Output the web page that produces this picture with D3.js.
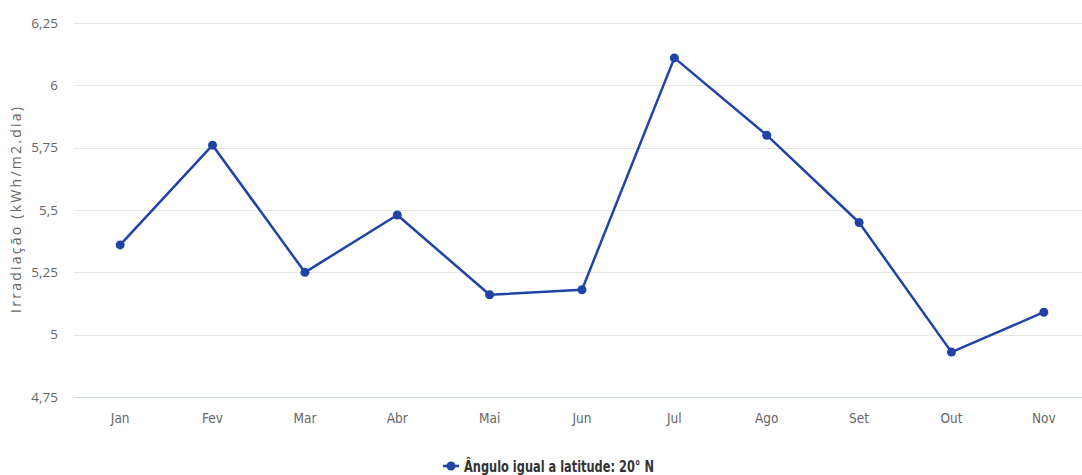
<!DOCTYPE html>
<html>
<head>
<meta charset="utf-8">
<script src="https://cdn.jsdelivr.net/npm/d3@7"></script>
<style>
  html, body { margin: 0; padding: 0; background: #fff; }
  svg { display: block; }
</style>
</head>
<body>
<svg id="chart" width="1082" height="475"></svg>
<script>
// Monthly solar irradiation at a tilt equal to latitude (20° N)
const months = ["Jan", "Fev", "Mar", "Abr", "Mai", "Jun", "Jul", "Ago", "Set", "Out", "Nov"];
const irradiation = [5.36, 5.76, 5.25, 5.48, 5.16, 5.18, 6.11, 5.80, 5.45, 4.93, 5.09];
const yTicks = [4.75, 5, 5.25, 5.5, 5.75, 6, 6.25];
const seriesName = "Ângulo igual a latitude: 20° N";
const yTitle = "Irradiação (kWh/m2.dia)";

const svg = d3.select("#chart");
const W = 1082, H = 475;
const plot = { left: 74, right: 1090, top: 23, bottom: 397 };
const lineColor = "#1f44a6";
const condensed = "'Liberation Sans Narrow', 'DejaVu Sans Condensed', 'Roboto Condensed', sans-serif";

const x = d3.scaleBand().domain(months).range([plot.left, plot.right]);
const y = d3.scaleLinear().domain([4.75, 6.25]).range([plot.bottom, plot.top]);

// horizontal grid
svg.append("g")
  .selectAll("line")
  .data(yTicks.filter(t => t !== 4.75))
  .join("line")
  .attr("x1", plot.left).attr("x2", W)
  .attr("y1", d => Math.round(y(d)) + 0.5).attr("y2", d => Math.round(y(d)) + 0.5)
  .attr("stroke", "#e6e6e6").attr("stroke-width", 1);

// y axis labels
const yAxis = svg.append("g")
  .attr("transform", `translate(${plot.left},0)`)
  .call(d3.axisLeft(y).tickValues(yTicks)
    .tickFormat(d => String(d).replace(".", ","))
    .tickSize(0).tickPadding(16));
yAxis.select(".domain").remove();
yAxis.selectAll("text")
  .attr("fill", "#666")
  .style("font-family", "'Open Sans', sans-serif")
  .style("font-size", "13.5px");

// x axis
const xAxis = svg.append("g")
  .attr("transform", `translate(0,${Math.round(plot.bottom) + 0.5})`)
  .call(d3.axisBottom(x).tickSize(0).tickPadding(16));
xAxis.select(".domain").attr("stroke", "#ccd6eb").attr("d", `M${plot.left},0H${W}`);
xAxis.selectAll("text")
  .attr("fill", "#666")
  .style("font-family", condensed)
  .style("font-size", "13.5px");

// y axis title
svg.append("text")
  .attr("transform", `translate(21,${(plot.top + plot.bottom) / 2}) rotate(-90)`)
  .attr("text-anchor", "middle")
  .attr("fill", "#666")
  .attr("textLength", 206)
  .attr("lengthAdjust", "spacing")
  .style("font-family", "'Open Sans', sans-serif")
  .style("font-size", "14px")
  .text(yTitle);

// series line and markers
const cx = d => x(d.m) + x.bandwidth() / 2;
const pts = months.map((m, i) => ({ m, v: irradiation[i] }));
svg.append("path")
  .datum(pts)
  .attr("fill", "none")
  .attr("stroke", lineColor)
  .attr("stroke-width", 2.5)
  .attr("stroke-linejoin", "round")
  .attr("d", d3.line().x(cx).y(d => y(d.v)));
svg.append("g")
  .selectAll("circle")
  .data(pts)
  .join("circle")
  .attr("cx", cx).attr("cy", d => y(d.v))
  .attr("r", 4.5)
  .attr("fill", lineColor);

// legend
const legend = svg.append("g").attr("transform", "translate(443,466)");
legend.append("line")
  .attr("x1", 0).attr("x2", 16).attr("y1", 0).attr("y2", 0)
  .attr("stroke", lineColor).attr("stroke-width", 2.5);
legend.append("circle").attr("cx", 8).attr("cy", 0).attr("r", 4.5).attr("fill", lineColor);
legend.append("text")
  .attr("x", 21).attr("y", 5.5)
  .attr("fill", "#333")
  .attr("textLength", 190)
  .attr("lengthAdjust", "spacingAndGlyphs")
  .style("font-family", condensed)
  .style("font-size", "15.5px")
  .style("font-weight", "bold")
  .text(seriesName);
</script>
</body>
</html>
